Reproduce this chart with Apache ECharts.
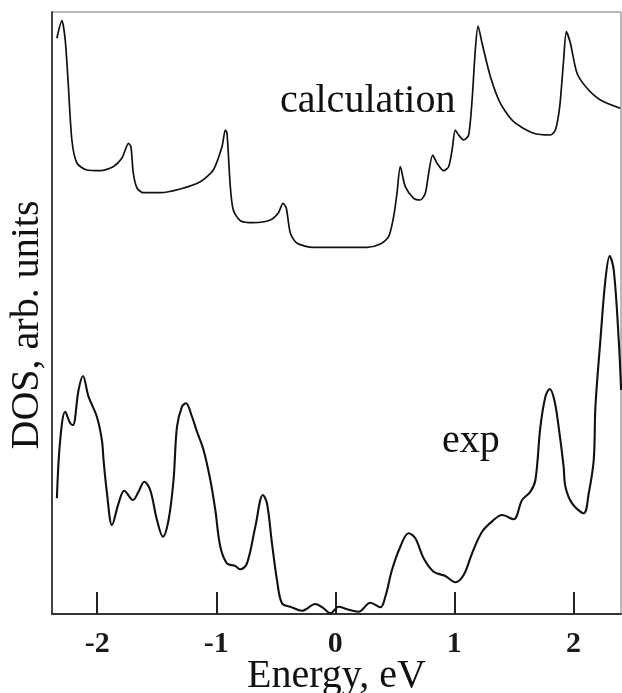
<!DOCTYPE html>
<html>
<head>
<meta charset="utf-8">
<script src="https://cdn.jsdelivr.net/npm/echarts@6/dist/echarts.min.js"></script>
<style>
html,body{margin:0;padding:0;background:#fff;}
#chart{width:622px;height:693px;}
</style>
</head>
<body>
<div id="chart"></div>
<script>
// Energy ticks (eV)
var tickValues = [-2, -1, 0, 1, 2];

// Calculated DOS (arbitrary units)
var calcE = [-2.339,-2.297,-2.269,-2.244,-2.213,-2.171,-2.087,-1.975,-1.866,-1.792,-1.737,-1.717,-1.697,-1.666,-1.613,-1.471,-1.303,-1.134,-1.025,-0.952,-0.924,-0.910,-0.882,-0.857,-0.798,-0.689,-0.546,-0.479,-0.439,-0.412,-0.378,-0.322,-0.185,0.266,0.378,0.448,0.490,0.518,0.546,0.588,0.658,0.714,0.756,0.784,0.818,0.855,0.910,0.952,0.981,1.008,1.036,1.078,1.120,1.149,1.176,1.199,1.233,1.303,1.387,1.498,1.666,1.807,1.849,1.885,1.918,1.941,1.975,2.031,2.115,2.227,2.395];
var calcDOS = [575.7,593.3,574,531,474,451,444,443.3,447.3,456,470.7,467.3,441,426,421.3,421.3,425,432.3,444,467.3,484,481,427.3,404,393.3,391.3,394,401,410.7,406,381,370.7,366.7,366.7,370,377.3,397.3,420.7,447.3,427.3,415.7,414,420.7,440.7,459,450.7,443.3,447.3,464,484,479,474,479,514,564,588,570.7,537.3,510.7,492.3,480.7,479,484,507.3,554,582.3,570.7,540.7,525.7,514,505.7];

// Experimental DOS (arbitrary units)
var expE = [-2.339,-2.311,-2.269,-2.227,-2.204,-2.157,-2.120,-2.073,-2.003,-1.961,-1.947,-1.918,-1.876,-1.821,-1.773,-1.700,-1.653,-1.605,-1.555,-1.498,-1.448,-1.401,-1.359,-1.330,-1.288,-1.255,-1.204,-1.162,-1.107,-1.050,-1.008,-0.966,-0.910,-0.840,-0.798,-0.742,-0.672,-0.608,-0.574,-0.532,-0.490,-0.448,-0.378,-0.280,-0.168,-0.098,-0.042,0.028,0.098,0.196,0.294,0.378,0.420,0.476,0.546,0.616,0.672,0.742,0.826,0.924,1.008,1.078,1.149,1.233,1.330,1.401,1.498,1.569,1.639,1.681,1.723,1.765,1.801,1.840,1.876,1.918,1.933,1.989,2.087,2.129,2.171,2.185,2.227,2.269,2.305,2.339,2.381,2.401];
var expDOS = [115.7,174,202.3,190.7,189,224,238,217.3,197.3,174,154,120.7,89,110.7,123.3,114,122.3,132.3,124,94,77.3,94,134,187.3,207.3,210.7,197.3,182.3,164,134,104,67.3,50.7,48,44.7,50.7,87.3,119,110.7,70.7,34,10.7,7.3,3.3,10,5.7,0.7,7.3,4.7,2.3,11.3,6.7,17.3,44,67.3,80.7,75.7,55.7,42.3,38,31.7,39,60.7,82.3,94,99,94.7,114,122.3,134,187.3,217.3,225,214,187.3,147.3,127.3,110.7,100.7,120.7,154,207.3,274,334,358,344,274,224];

function pairs(xs, ys){ var out=[]; for(var i=0;i<xs.length;i++){ out.push([xs[i], ys[i]]); } return out; }

var serif = '"Liberation Serif", "DejaVu Serif", serif';
var chart = echarts.init(document.getElementById('chart'), null, {renderer:'canvas'});
chart.setOption({
  animation: false,
  backgroundColor: '#fff',
  grid: { left: 52, right: 1, top: 12, bottom: 79, containLabel: false, outerBoundsMode: 'none',
          show: true, borderColor: '#777', borderWidth: 1, backgroundColor: 'transparent' },
  xAxis: {
    type: 'value', min: -2.38, max: 2.40,
    name: 'Energy, eV', nameLocation: 'middle', nameGap: 42, nameMoveOverlap: false,
    nameTextStyle: { fontFamily: serif, fontSize: 40, color: '#111' },
    axisLine: { show: true, onZero: false, lineStyle: { color: '#333', width: 2 } },
    axisTick: { show: true, inside: true, length: 22, customValues: tickValues, lineStyle: { color: '#222', width: 2 } },
    axisLabel: { show: true, customValues: tickValues, margin: 15, fontFamily: serif, fontWeight: 'bold', fontSize: 30, color: '#1a1a1a',
      formatter: function(v){ return String(v); } },
    splitLine: { show: false }
  },
  yAxis: {
    type: 'value', min: 0, max: 602,
    axisLine: { show: true, onZero: false, lineStyle: { color: '#444', width: 2 } },
    axisTick: { show: false }, axisLabel: { show: false }, splitLine: { show: false }
  },
  graphic: [
    { type: 'text', left: 280, top: 81, style: { text: 'calculation', fontFamily: serif, fontSize: 40, fill: '#111' } },
    { type: 'text', left: 442, top: 421, style: { text: 'exp', fontFamily: serif, fontSize: 40, fill: '#111' } },
    { type: 'text', x: 27, y: 325, rotation: Math.PI/2, style: { text: 'DOS, arb. units', fontFamily: serif, fontSize: 40, fill: '#111', align: 'center', verticalAlign: 'middle' } }
  ],
  series: [
    { type: 'line', name: 'calculation', data: pairs(calcE, calcDOS), showSymbol: false, smooth: 0.25, lineStyle: { color: '#111', width: 1.7 } },
    { type: 'line', name: 'exp', data: pairs(expE, expDOS), showSymbol: false, smooth: 0.35, lineStyle: { color: '#111', width: 2.1 } }
  ]
});
</script>
</body>
</html>
